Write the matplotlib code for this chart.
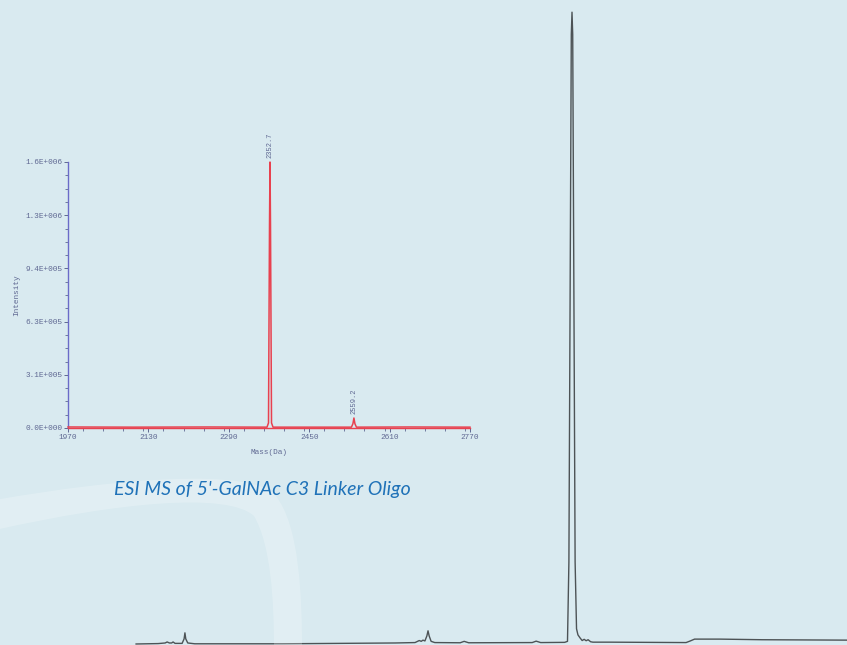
import numpy as np
import matplotlib
matplotlib.use("Agg")
import matplotlib.pyplot as plt
from matplotlib.path import Path
from matplotlib.patches import PathPatch
from matplotlib.ticker import FixedLocator, MultipleLocator

# ---------------- data ----------------
# HPLC chromatogram trace (retention time in min, absorbance in mAU)
rt_min = [4.82, 5.6, 5.85, 5.92, 6.0, 6.08, 6.13, 6.2, 6.45, 6.52, 6.55, 6.58, 6.65, 6.9,
          10.0, 12.0, 14.0, 14.7, 14.85, 14.92, 14.98, 15.05, 15.12, 15.16, 15.2, 15.27, 15.4,
          16.3, 16.44, 16.6, 18.85, 18.99, 19.15, 20.0, 20.10, 20.15, 20.235, 20.26, 20.285,
          20.37, 20.42, 20.47, 20.55, 20.62, 20.69, 20.76, 20.83, 20.92, 21.0, 21.6, 24.3,
          24.45, 24.6, 25.5, 27.0, 30.0]
absorb_mau = [-0.5, -0.3, 0.0, 0.5, 0.0, 0.0, 0.5, -0.2, -0.2, 2.0, 5.0, 2.0, 0.0, -0.4,
              -0.4, -0.2, 0.0, 0.2, 1.2, 0.8, 1.4, 1.0, 3.5, 6.0, 3.5, 0.8, 0.2,
              0.1, 0.8, 0.1, 0.2, 0.9, 0.2, 0.3, 0.8, 40.0, 300.0, 311.0, 300.0,
              40.0, 7.0, 4.0, 2.4, 1.2, 1.8, 1.1, 1.6, 0.6, 0.4, 0.4, 0.2,
              1.0, 1.9, 1.9, 1.6, 1.4]

# ESI MS spectrum (mass in Da, intensity)
ms_mass = [1970, 2100, 2250, 2366, 2369, 2371, 2372, 2373, 2375, 2378, 2450,
           2534, 2537, 2539, 2541, 2544, 2650, 2770]
ms_intensity = [6e3, 5e3, 6e3, 5e3, 3e4, 1.2e6, 1.57e6, 1.2e6, 3e4, 5e3, 5e3,
                5e3, 2.5e4, 5.9e4, 2.5e4, 5e3, 6e3, 5e3]

ms_peak_mass = [2372, 2539]
ms_peak_int = [1.57e6, 5.9e4]
ms_peak_labels = ["2352.7", "2559.2"]

ms_xticks = [1970, 2130, 2290, 2450, 2610, 2770]
ms_yticks = [0, 3.14e5, 6.28e5, 9.42e5, 1.256e6, 1.57e6]
ms_ytick_labels = ["0.0E+000", "3.1E+005", "6.3E+005", "9.4E+005", "1.3E+006", "1.6E+006"]

caption = "ESI MS of 5'-GalNAc C3 Linker Oligo"

# ---------------- figure ----------------
W, H = 847, 645
bg = "#d9eaf0"
fig = plt.figure(figsize=(W / 100, H / 100), dpi=100, facecolor=bg)

# decorative light swoosh in background
def fp(x, y):
    return (x / W, 1 - y / H)

verts = [fp(-5, 500),
         fp(120, 478), fp(250, 468), fp(275, 495),
         fp(300, 525), fp(302, 600), fp(302, 650),
         fp(274, 650),
         fp(274, 600), fp(271, 545), fp(254, 516),
         fp(228, 492), fp(120, 502), fp(-5, 530),
         fp(-5, 500)]
codes = [Path.MOVETO,
         Path.CURVE4, Path.CURVE4, Path.CURVE4,
         Path.CURVE4, Path.CURVE4, Path.CURVE4,
         Path.LINETO,
         Path.CURVE4, Path.CURVE4, Path.CURVE4,
         Path.CURVE4, Path.CURVE4, Path.CURVE4,
         Path.CLOSEPOLY]
fig.patches.append(PathPatch(Path(verts, codes), transform=fig.transFigure,
                             facecolor="white", edgecolor="none", alpha=0.22, zorder=0))

# chromatogram
axc = fig.add_axes([0, 0, 1, 1])
axc.set_facecolor("none")
axc.plot(rt_min, absorb_mau, color="#4d5356", lw=1.0, solid_joinstyle="round")
axc.set_xlim(0, 30)
axc.set_ylim(-1, 317)
axc.axis("off")

# MS inset
tick_col = "#5f6892"
mono = ["Liberation Mono", "DejaVu Sans Mono"]
axm = fig.add_axes([68 / W, 1 - 428 / H, 402 / W, 266 / H])
axm.set_facecolor("none")
axm.plot(ms_mass, ms_intensity, color="#e8414f", lw=1.1, clip_on=False, zorder=3)
axm.set_xlim(1970, 2770)
axm.set_ylim(0, 1.57e6)
for s in ["top", "right"]:
    axm.spines[s].set_visible(False)
axm.spines["left"].set_color("#6b6bc8")
axm.spines["left"].set_linewidth(1.0)
axm.spines["bottom"].set_color("#e8414f")
axm.spines["bottom"].set_linewidth(1.0)

axm.xaxis.set_major_locator(FixedLocator(ms_xticks))
axm.xaxis.set_minor_locator(MultipleLocator(40))
axm.yaxis.set_major_locator(FixedLocator(ms_yticks))
axm.yaxis.set_minor_locator(MultipleLocator(1.57e6 / 20))
axm.set_yticklabels(ms_ytick_labels)
axm.set_xticklabels([str(v) for v in ms_xticks])
axm.tick_params(axis="both", which="major", length=3, width=0.7, color=tick_col,
                labelsize=5.6, labelcolor=tick_col, pad=1)
axm.tick_params(axis="both", which="minor", length=2, width=0.6, color=tick_col)
for lab in axm.get_xticklabels() + axm.get_yticklabels():
    lab.set_family(mono)

axm.set_xlabel("Mass(Da)", family=mono, fontsize=5.6, color=tick_col, labelpad=6)
axm.set_ylabel("Intensity", family=mono, fontsize=5.6, color=tick_col, labelpad=4)

for m, v, t in zip(ms_peak_mass, ms_peak_int, ms_peak_labels):
    axm.annotate(t, xy=(m, v), xytext=(0, 3), textcoords="offset points",
                 rotation=90, ha="center", va="bottom", family=mono,
                 fontsize=5.0, color=tick_col, annotation_clip=False)

# caption
fig.text(114 / W, 1 - 489 / H, caption, family=["Lato", "DejaVu Sans"], style="italic",
         fontsize=14, color="#1f72b8", ha="left", va="center")

fig.savefig("out.png", dpi=100, facecolor=bg)
